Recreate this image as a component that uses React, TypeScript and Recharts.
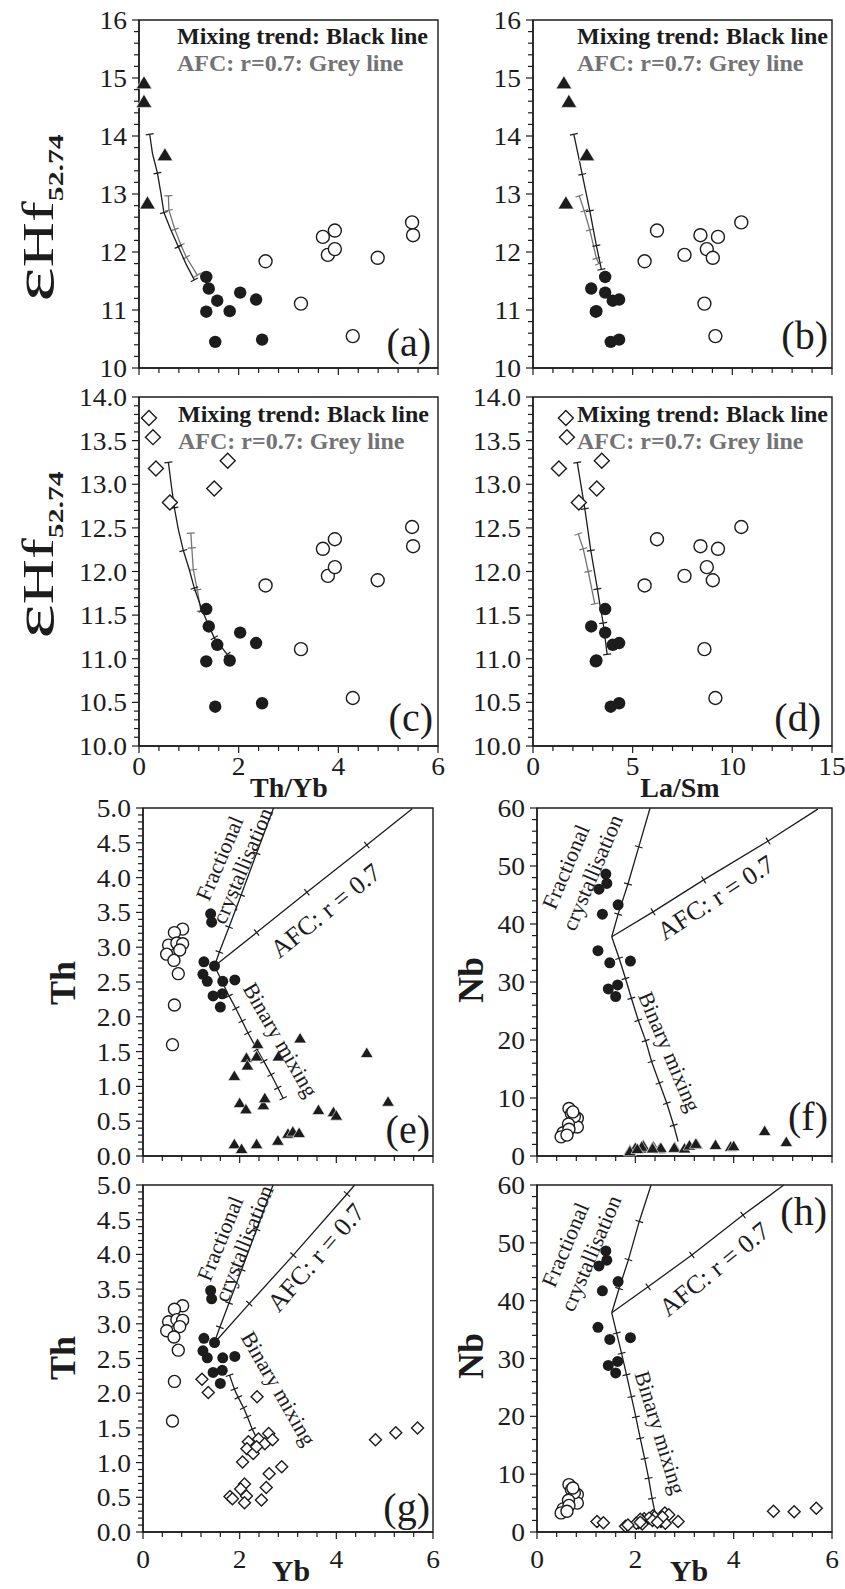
import React from 'react';
import { ScatterChart, Scatter, XAxis, YAxis, ReferenceArea, ReferenceDot } from 'recharts';

const SERIF = '"Liberation Serif", "Times New Roman", Times, serif';
const INK = '#1c1c1c';
const GREY = '#737373';

// ---- εHf(52.74) data, panels a–d ----
const hfMafic = [11.57, 11.37, 11.16, 10.97, 10.98, 11.3, 11.18, 10.45, 10.49];
const thYbMafic = [1.35, 1.4, 1.57, 1.35, 1.82, 2.03, 2.35, 1.53, 2.47];
const laSmMafic = [3.62, 2.92, 4.0, 3.15, 3.18, 3.62, 4.32, 3.9, 4.32];

const hfFelsic = [11.84, 11.11, 12.26, 11.95, 12.37, 12.05, 10.55, 11.9, 12.51, 12.29];
const thYbFelsic = [2.54, 3.25, 3.69, 3.79, 3.93, 3.93, 4.29, 4.79, 5.48, 5.5];
const laSmFelsic = [5.6, 8.6, 9.28, 7.6, 6.22, 8.72, 9.15, 9.02, 10.45, 8.4];

const hfTri = [14.91, 14.59, 13.67, 12.84];
const thYbTri = [0.1, 0.1, 0.52, 0.17];
const laSmTri = [1.55, 1.8, 2.7, 1.65];

const hfDia = [13.76, 13.54, 13.18, 12.79, 12.95, 13.27];
const thYbDia = [0.2, 0.28, 0.34, 0.62, 1.51, 1.78];
const laSmDia = [1.65, 1.7, 1.3, 2.3, 3.2, 3.45];

// mixing (black) and AFC (grey) curves: [x, y, crossbar]
const aBlack = [[0.215, 14.03, 1], [0.27, 13.7, 0], [0.37, 13.36, 1], [0.44, 13.01, 0], [0.5, 12.68, 1], [0.64, 12.38, 0], [0.79, 12.09, 1], [0.94, 11.8, 0], [1.11, 11.52, 1]];
const aGrey = [[0.59, 12.97, 1], [0.6, 12.72, 1], [0.72, 12.39, 1], [0.84, 12.12, 1], [0.95, 11.91, 1], [1.17, 11.6, 1]];
const bBlack = [[2.05, 14.03, 1], [2.47, 13.34, 1], [2.85, 12.71, 1], [3.18, 12.11, 1], [3.43, 11.7, 1]];
const bGrey = [[2.32, 12.97, 1], [2.57, 12.71, 1], [2.85, 12.38, 1], [3.18, 11.89, 1], [3.3, 11.8, 1]];
const cBlack = [[0.59, 13.25, 1], [0.65, 12.98, 0], [0.71, 12.73, 1], [0.79, 12.48, 0], [0.89, 12.24, 1], [1.01, 12.02, 0], [1.11, 11.81, 1], [1.27, 11.55, 1], [1.51, 11.24, 1], [1.77, 11.05, 1]];
const cGrey = [[1.04, 12.44, 1], [1.06, 12.27, 1], [1.09, 12.02, 1], [1.17, 11.79, 1], [1.24, 11.55, 1]];
const dBlack = [[2.22, 13.25, 1], [2.6, 12.72, 1], [2.9, 12.24, 1], [3.23, 11.8, 1], [3.35, 11.63, 0], [3.52, 11.41, 1], [3.72, 11.05, 1]];
const dGrey = [[2.27, 12.43, 1], [2.52, 12.26, 1], [2.77, 12.0, 1], [3.1, 11.63, 1]];

// ---- Th / Nb vs Yb data, panels e–h ----
const ybFilled = [1.4, 1.42, 1.26, 1.48, 1.24, 1.33, 1.65, 1.9, 1.45, 1.64, 1.6];
const thFilled = [3.48, 3.36, 2.79, 2.73, 2.61, 2.51, 2.51, 2.53, 2.3, 2.33, 2.14];
const nbFilled = [48.6, 47.0, 46.0, 33.3, 35.4, 41.7, 43.3, 33.6, 28.8, 29.5, 27.5];

const ybOpen = [0.82, 0.65, 0.53, 0.7, 0.82, 0.49, 0.76, 0.64, 0.73, 0.65, 0.61];
const thOpen = [3.26, 3.21, 3.03, 3.06, 3.05, 2.9, 2.96, 2.81, 2.62, 2.17, 1.6];
const nbOpen = [6.5, 8.2, 4.0, 7.3, 5.0, 3.3, 6.8, 5.5, 7.6, 4.6, 3.6];

const ybTri = [2.37, 3.25, 4.63, 2.14, 2.35, 2.8, 1.89, 2.16, 2.0, 2.13, 2.49, 2.52, 3.63, 3.94, 4.0, 5.07, 1.89, 2.04, 2.35, 2.79, 3.0, 3.1, 3.23];
const thTri = [1.61, 1.69, 1.48, 1.41, 1.43, 1.43, 1.15, 1.3, 0.76, 0.67, 0.73, 0.83, 0.66, 0.63, 0.58, 0.78, 0.17, 0.1, 0.17, 0.22, 0.32, 0.35, 0.33];
const nbTri = [1.6, 2.0, 4.3, 1.3, 1.5, 1.5, 1.0, 1.8, 1.4, 1.6, 1.2, 1.4, 1.9, 1.6, 1.7, 2.4, 0.8, 1.2, 1.3, 1.4, 1.3, 1.8, 2.1];

const ybDia = [1.22, 1.35, 2.36, 2.18, 2.39, 2.6, 2.52, 2.68, 2.15, 2.28, 2.35, 2.06, 2.87, 2.61, 2.1, 2.02, 2.55, 1.8, 1.85, 2.14, 2.1, 2.45, 4.81, 5.23, 5.68];
const thDia = [2.2, 2.01, 1.95, 1.3, 1.34, 1.42, 1.27, 1.33, 1.2, 1.13, 1.23, 1.01, 0.94, 0.84, 0.69, 0.62, 0.64, 0.51, 0.48, 0.52, 0.42, 0.46, 1.33, 1.43, 1.5];
const nbDia = [1.8, 1.6, 2.8, 2.3, 2.6, 3.3, 1.8, 3.0, 1.9, 2.4, 2.0, 1.6, 1.8, 1.5, 2.2, 1.5, 2.6, 1.0, 1.2, 1.4, 1.7, 1.7, 3.6, 3.5, 4.1];

// model trends: fractional crystallisation, AFC (r = 0.7), binary mixing
const eFC = [[1.48, 2.73, 0], [1.58, 2.93, 1], [1.78, 3.29, 1], [2.03, 3.75, 1], [2.35, 4.35, 1], [2.7, 5.0, 0]];
const eAFC = [[1.48, 2.73, 0], [2.35, 3.21, 1], [3.39, 3.79, 1], [4.63, 4.47, 1], [5.57, 4.99, 0]];
const eBin = [[1.48, 2.73, 0], [1.78, 2.3, 1], [1.92, 2.12, 1], [2.05, 1.94, 1], [2.17, 1.77, 1], [2.36, 1.53, 1], [2.5, 1.36, 1], [2.65, 1.17, 1], [2.79, 0.98, 1], [2.9, 0.83, 1]];
const fFC = [[1.52, 37.8, 0], [1.65, 41.7, 1], [1.85, 46.9, 1], [2.07, 53.3, 1], [2.3, 60.0, 0]];
const fAFC = [[1.52, 37.8, 0], [2.36, 42.1, 1], [3.39, 47.6, 1], [4.7, 54.3, 1], [5.71, 59.8, 0]];
const fBin = [[1.52, 37.8, 0], [1.67, 34.1, 1], [1.8, 30.6, 1], [1.92, 27.2, 1], [2.06, 23.4, 1], [2.21, 19.9, 1], [2.33, 16.3, 1], [2.49, 12.6, 1], [2.64, 9.1, 1], [2.78, 5.3, 1], [2.87, 2.5, 0]];
const gFC = [[1.47, 2.72, 0], [1.59, 2.95, 1], [1.78, 3.3, 1], [2.04, 3.78, 1], [2.35, 4.36, 1], [2.69, 5.0, 0]];
const gAFC = [[1.47, 2.72, 0], [2.2, 3.29, 1], [3.11, 3.99, 1], [4.22, 4.87, 1], [4.38, 5.0, 0]];
const gBin = [[1.79, 2.26, 1], [1.89, 2.06, 1], [1.97, 1.94, 1], [2.08, 1.79, 1], [2.16, 1.66, 1], [2.26, 1.48, 1], [2.35, 1.36, 1]];
const hFC = [[1.52, 37.9, 0], [1.67, 42.1, 1], [1.86, 47.1, 1], [2.08, 53.7, 1], [2.32, 60.0, 0]];
const hAFC = [[1.52, 37.9, 0], [2.26, 42.4, 1], [3.15, 47.9, 1], [4.19, 54.8, 1], [5.02, 60.0, 0]];
const hBin = [[1.52, 37.9, 0], [1.62, 34.4, 1], [1.72, 30.9, 1], [1.82, 27.2, 1], [1.92, 23.4, 1], [2.01, 19.9, 1], [2.1, 16.2, 1], [2.19, 12.7, 1], [2.27, 9.3, 1], [2.34, 5.8, 1], [2.4, 3.4, 0]];

type Kind = 'filled' | 'open' | 'tri' | 'dia';
interface Series { xs: number[]; ys: number[]; kind: Kind; size: number }
interface Curve { pts: number[][]; color: string }
interface Note { x: number; y: number; text: string; angle: number; size: number }
interface PanelCfg {
  left: number; top: number; w: number; h: number;
  xDomain: [number, number]; xMajor: number[]; xStep: number; xLabelDy?: number;
  yDomain: [number, number]; yMajor: number[]; yStep: number; yDigits: number;
  series: Series[]; curves: Curve[]; notes?: Note[];
}

const steps = (a: number, b: number, s: number) =>
  Array.from({ length: Math.round((b - a) / s) + 1 }, (_, i) => +(a + i * s).toFixed(4));
const isMajor = (v: number, majors: number[]) => majors.some((m) => Math.abs(m - v) < 1e-6);
const zip = (xs: number[], ys: number[]) => xs.map((x, i) => ({ x, y: ys[i] }));

// perpendicular direction (in pixels) for the little crossbars along a trend
function withBars(pts: number[][], kx: number, ky: number) {
  return pts.map((p, i) => {
    const a = pts[Math.max(0, i - 1)];
    const b = pts[Math.min(pts.length - 1, i + 1)];
    const dx = (b[0] - a[0]) * kx;
    const dy = -(b[1] - a[1]) * ky;
    const len = Math.hypot(dx, dy) || 1;
    return { x: p[0], y: p[1], bar: p[2] === 1, nx: -dy / len, ny: dx / len };
  });
}

function Marker({ cx, cy, kind, size }: any) {
  if (cx == null || cy == null) return <g />;
  if (kind === 'filled') return <circle cx={cx} cy={cy} r={size} fill={INK} />;
  if (kind === 'open') return <circle cx={cx} cy={cy} r={size} fill="#fff" stroke={INK} strokeWidth={1.4} />;
  if (kind === 'tri') {
    const s = size;
    return (
      <polygon
        points={`${cx},${cy - s} ${cx + s * 1.05},${cy + s * 0.75} ${cx - s * 1.05},${cy + s * 0.75}`}
        fill={INK}
        stroke="#fff"
        strokeWidth={0.6}
      />
    );
  }
  return (
    <polygon
      points={`${cx},${cy - size} ${cx + size},${cy} ${cx},${cy + size} ${cx - size},${cy}`}
      fill="#fff"
      stroke={INK}
      strokeWidth={1.4}
    />
  );
}

function BarTick({ cx, cy, payload, color }: any) {
  if (cx == null || !payload || !payload.bar) return <g />;
  const L = 4;
  return (
    <line
      x1={cx - payload.nx * L}
      y1={cy - payload.ny * L}
      x2={cx + payload.nx * L}
      y2={cy + payload.ny * L}
      stroke={color}
      strokeWidth={1.2}
    />
  );
}

// tick numbers are a touch wider than plain Times
const TICK_FONT = 25;
const TICK_STRETCH = 1.1;

const makeXTick = (cfg: PanelCfg) => (p: any) => {
  const v = p.payload.value;
  const major = isMajor(v, cfg.xMajor);
  return (
    <g>
      <line x1={p.x} x2={p.x} y1={p.y} y2={p.y + (major ? 7 : 5)} stroke={INK} strokeWidth={1.2} />
      {major && cfg.xLabelDy != null && (
        <text
          transform={`translate(${p.x},${p.y + cfg.xLabelDy}) scale(${TICK_STRETCH},1)`}
          textAnchor="middle"
          fontFamily={SERIF}
          fontSize={TICK_FONT}
          fill={INK}
        >
          {v}
        </text>
      )}
    </g>
  );
};

const makeYTick = (cfg: PanelCfg) => (p: any) => {
  const v = p.payload.value;
  const major = isMajor(v, cfg.yMajor);
  return (
    <g>
      <line x1={p.x} x2={p.x - (major ? 7 : 5)} y1={p.y} y2={p.y} stroke={INK} strokeWidth={1.2} />
      {major && (
        <text
          transform={`translate(${p.x - 12},${p.y}) scale(${TICK_STRETCH},1)`}
          dy="0.36em"
          textAnchor="end"
          fontFamily={SERIF}
          fontSize={TICK_FONT}
          fill={INK}
        >
          {v.toFixed(cfg.yDigits)}
        </text>
      )}
    </g>
  );
};

function Panel({ cfg }: { cfg: PanelCfg }) {
  const YW = 100, T = 20, R = 24, XH = 50;
  const kx = cfg.w / (cfg.xDomain[1] - cfg.xDomain[0]);
  const ky = cfg.h / (cfg.yDomain[1] - cfg.yDomain[0]);
  return (
    <div style={{ position: 'absolute', left: cfg.left - YW, top: cfg.top - T }}>
      <ScatterChart width={cfg.w + YW + R} height={cfg.h + T + XH} margin={{ top: T, right: R, bottom: 0, left: 0 }}>
        <XAxis
          type="number"
          dataKey="x"
          domain={cfg.xDomain}
          ticks={steps(cfg.xDomain[0], cfg.xDomain[1], cfg.xStep)}
          interval={0}
          height={XH}
          tickSize={0}
          tickMargin={0}
          tickLine={false}
          axisLine={{ stroke: INK, strokeWidth: 1.4 }}
          tick={makeXTick(cfg)}
        />
        <YAxis
          type="number"
          dataKey="y"
          domain={cfg.yDomain}
          ticks={steps(cfg.yDomain[0], cfg.yDomain[1], cfg.yStep)}
          interval={0}
          width={YW}
          tickSize={0}
          tickMargin={0}
          tickLine={false}
          axisLine={{ stroke: INK, strokeWidth: 1.4 }}
          tick={makeYTick(cfg)}
        />
        <ReferenceArea
          x1={cfg.xDomain[0]}
          x2={cfg.xDomain[1]}
          y1={cfg.yDomain[0]}
          y2={cfg.yDomain[1]}
          fill="none"
          fillOpacity={0}
          stroke={INK}
          strokeWidth={1.4}
          ifOverflow="visible"
        />
        {cfg.curves.map((c, i) => (
          <Scatter
            key={'c' + i}
            data={withBars(c.pts, kx, ky)}
            line={{ stroke: c.color, strokeWidth: 1.3 }}
            lineType="joint"
            shape={(p: any) => <BarTick {...p} color={c.color} />}
            isAnimationActive={false}
          />
        ))}
        {cfg.series.map((s, i) => (
          <Scatter
            key={'s' + i}
            data={zip(s.xs, s.ys)}
            shape={(p: any) => <Marker {...p} kind={s.kind} size={s.size} />}
            isAnimationActive={false}
          />
        ))}
        {(cfg.notes || []).map((n, i) => (
          <ReferenceDot
            key={'n' + i}
            x={n.x}
            y={n.y}
            ifOverflow="visible"
            shape={(p: any) => (
              <text
                transform={`translate(${p.cx},${p.cy}) rotate(${n.angle})`}
                textAnchor="middle"
                dy="0.35em"
                fontFamily={SERIF}
                fontSize={n.size}
                fill={INK}
              >
                {n.text}
              </text>
            )}
          />
        ))}
      </ScatterChart>
    </div>
  );
}

const hfRowA = { yDomain: [10, 16] as [number, number], yMajor: steps(10, 16, 1), yStep: 0.2, yDigits: 0 };
const hfRowC = { yDomain: [10, 14] as [number, number], yMajor: steps(10, 14, 0.5), yStep: 0.1, yDigits: 1 };
const thRow = { yDomain: [0, 5] as [number, number], yMajor: steps(0, 5, 0.5), yStep: 0.1, yDigits: 1 };
const nbRow = { yDomain: [0, 60] as [number, number], yMajor: steps(0, 60, 10), yStep: 2, yDigits: 0 };
const thYbX = { xDomain: [0, 6] as [number, number], xMajor: [0, 2, 4, 6], xStep: 0.4 };
const laSmX = { xDomain: [0, 15] as [number, number], xMajor: [0, 5, 10, 15], xStep: 1 };

const fcNotes = (fx: number, fy: number, cx: number, cy: number, angle: number): Note[] => [
  { x: fx, y: fy, text: 'Fractional', angle, size: 22 },
  { x: cx, y: cy, text: 'crystallisation', angle, size: 22 },
];

const panels: PanelCfg[] = [
  {
    left: 139, top: 20, w: 299, h: 348, ...thYbX, ...hfRowA,
    curves: [{ pts: aGrey, color: GREY }, { pts: aBlack, color: INK }],
    series: [
      { xs: thYbTri, ys: hfTri, kind: 'tri', size: 7.5 },
      { xs: thYbMafic, ys: hfMafic, kind: 'filled', size: 6.2 },
      { xs: thYbFelsic, ys: hfFelsic, kind: 'open', size: 6.5 },
    ],
  },
  {
    left: 533, top: 20, w: 299, h: 348, ...laSmX, ...hfRowA,
    curves: [{ pts: bGrey, color: GREY }, { pts: bBlack, color: INK }],
    series: [
      { xs: laSmTri, ys: hfTri, kind: 'tri', size: 7.5 },
      { xs: laSmMafic, ys: hfMafic, kind: 'filled', size: 6.2 },
      { xs: laSmFelsic, ys: hfFelsic, kind: 'open', size: 6.5 },
    ],
  },
  {
    left: 139, top: 397, w: 299, h: 349, ...thYbX, xLabelDy: 29, ...hfRowC,
    curves: [{ pts: cGrey, color: GREY }, { pts: cBlack, color: INK }],
    series: [
      { xs: thYbDia, ys: hfDia, kind: 'dia', size: 7.5 },
      { xs: thYbMafic, ys: hfMafic, kind: 'filled', size: 6.2 },
      { xs: thYbFelsic, ys: hfFelsic, kind: 'open', size: 6.5 },
    ],
  },
  {
    left: 533, top: 397, w: 299, h: 349, ...laSmX, xLabelDy: 29, ...hfRowC,
    curves: [{ pts: dGrey, color: GREY }, { pts: dBlack, color: INK }],
    series: [
      { xs: laSmDia, ys: hfDia, kind: 'dia', size: 7.5 },
      { xs: laSmMafic, ys: hfMafic, kind: 'filled', size: 6.2 },
      { xs: laSmFelsic, ys: hfFelsic, kind: 'open', size: 6.5 },
    ],
  },
  {
    left: 143, top: 808, w: 290, h: 348, ...thYbX, ...thRow,
    curves: [{ pts: eFC, color: INK }, { pts: eAFC, color: INK }, { pts: eBin, color: INK }],
    series: [
      { xs: ybOpen, ys: thOpen, kind: 'open', size: 6 },
      { xs: ybFilled, ys: thFilled, kind: 'filled', size: 5.5 },
      { xs: ybTri, ys: thTri, kind: 'tri', size: 6 },
    ],
    notes: [
      ...fcNotes(1.58, 4.28, 2.05, 4.17, -67),
      { x: 3.77, y: 3.53, text: 'AFC: r = 0.7', angle: -39, size: 26 },
      { x: 2.85, y: 1.67, text: 'Binary mixing', angle: 60, size: 22 },
    ],
  },
  {
    left: 537, top: 808, w: 295, h: 348, ...thYbX, ...nbRow,
    curves: [{ pts: fFC, color: INK }, { pts: fAFC, color: INK }, { pts: fBin, color: INK }],
    series: [
      { xs: ybOpen, ys: nbOpen, kind: 'open', size: 6 },
      { xs: ybFilled, ys: nbFilled, kind: 'filled', size: 5.5 },
      { xs: ybTri, ys: nbTri, kind: 'tri', size: 6 },
    ],
    notes: [
      ...fcNotes(0.58, 49.9, 1.12, 48.9, -67),
      { x: 3.63, y: 44.6, text: 'AFC: r = 0.7', angle: -33, size: 26 },
      { x: 2.7, y: 18.0, text: 'Binary mixing', angle: 67, size: 22 },
    ],
  },
  {
    left: 143, top: 1185, w: 290, h: 347, ...thYbX, xLabelDy: 36, ...thRow,
    curves: [{ pts: gFC, color: INK }, { pts: gAFC, color: INK }, { pts: gBin, color: INK }],
    series: [
      { xs: ybOpen, ys: thOpen, kind: 'open', size: 6 },
      { xs: ybFilled, ys: thFilled, kind: 'filled', size: 5.5 },
      { xs: ybDia, ys: thDia, kind: 'dia', size: 6 },
    ],
    notes: [
      ...fcNotes(1.59, 4.23, 2.08, 4.16, -68),
      { x: 3.57, y: 3.96, text: 'AFC: r = 0.7', angle: -49, size: 26 },
      { x: 2.81, y: 2.07, text: 'Binary mixing', angle: 60, size: 22 },
    ],
  },
  {
    left: 537, top: 1185, w: 295, h: 347, ...thYbX, xLabelDy: 36, ...nbRow,
    curves: [{ pts: hFC, color: INK }, { pts: hAFC, color: INK }, { pts: hBin, color: INK }],
    series: [
      { xs: ybOpen, ys: nbOpen, kind: 'open', size: 6 },
      { xs: ybFilled, ys: nbFilled, kind: 'filled', size: 5.5 },
      { xs: ybDia, ys: nbDia, kind: 'dia', size: 6 },
    ],
    notes: [
      ...fcNotes(0.57, 49.7, 1.09, 48.2, -67),
      { x: 3.6, y: 45.5, text: 'AFC: r = 0.7', angle: -39, size: 26 },
      { x: 2.51, y: 17.2, text: 'Binary mixing', angle: 73, size: 22 },
    ],
  },
];

// panel letters: [text, right edge, baseline]
const letters: [string, number, number][] = [
  ['(a)', 431, 356], ['(b)', 828, 349], ['(c)', 433, 731], ['(d)', 821, 731],
  ['(e)', 430, 1143], ['(f)', 828, 1130], ['(g)', 430, 1521], ['(h)', 827, 1225],
];
// legend blocks: [left, first baseline]
const legends: [number, number][] = [[177, 44], [577, 44], [178, 422], [577, 422]];

function Titles() {
  const hf = (cy: number) => (
    <text transform={`translate(53,${cy}) rotate(-90) scale(1.42,1)`} textAnchor="middle" fontFamily={SERIF} fill={INK}>
      <tspan fontSize={58}>ε</tspan>
      <tspan fontSize={44}>Hf</tspan>
      <tspan fontSize={21} fontWeight="bold" dy={10}>52.74</tspan>
    </text>
  );
  const vert = (t: string, x: number, y: number) => (
    <text transform={`translate(${x},${y}) rotate(-90)`} textAnchor="middle" fontFamily={SERIF} fontWeight="bold" fontSize={36} fill={INK}>
      {t}
    </text>
  );
  const horiz = (t: string, x: number, y: number, size: number) => (
    <text x={x} y={y} textAnchor="middle" fontFamily={SERIF} fontWeight="bold" fontSize={size} fill={INK}>
      {t}
    </text>
  );
  return (
    <svg width={845} height={1589} style={{ position: 'absolute', left: 0, top: 0 }}>
      {hf(218)}
      {hf(555)}
      {vert('Th', 75, 983)}
      {vert('Th', 75, 1358)}
      {vert('Nb', 483, 980)}
      {vert('Nb', 483, 1356)}
      {horiz('Th/Yb', 289, 797, 28)}
      {horiz('La/Sm', 680, 797, 28)}
      {horiz('Yb', 291, 1581, 30)}
      {horiz('Yb', 689, 1581, 30)}
      {legends.map(([x, y], i) => (
        <g key={'l' + i} fontFamily={SERIF} fontWeight="bold" fontSize={24}>
          <text x={x} y={y} fill={INK}>Mixing trend: Black line</text>
          <text x={x} y={y + 27} fill={GREY}>AFC: r=0.7: Grey line</text>
        </g>
      ))}
      {letters.map(([t, x, y]) => (
        <text key={t} x={x} y={y} textAnchor="end" fontFamily={SERIF} fontSize={40} fill={INK}>
          {t}
        </text>
      ))}
    </svg>
  );
}

export default function App() {
  return (
    <div style={{ position: 'absolute', left: 0, top: 0, width: 845, height: 1589, background: '#fff', overflow: 'hidden' }}>
      <Titles />
      {panels.map((cfg, i) => (
        <Panel key={i} cfg={cfg} />
      ))}
    </div>
  );
}
